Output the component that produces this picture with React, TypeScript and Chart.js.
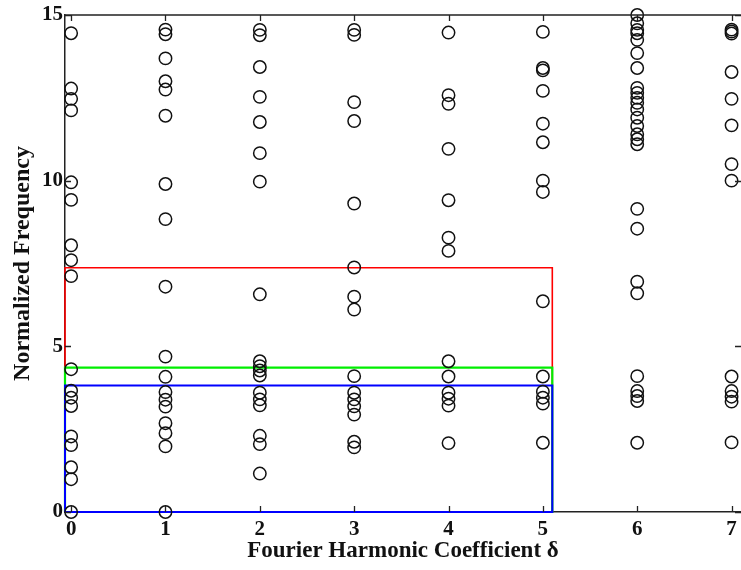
import { useEffect, useRef } from 'react';
import { Chart, registerables } from 'chart.js';

Chart.register(...registerables);

// Tick labels
const xTicks = [0, 1, 2, 3, 4, 5, 6, 7];
const yTicks = [0, 5, 10, 15];

// Axis ranges
const xMin = -0.065;
const xMax = 7.1;
const yMin = 0;
const yMax = 15;

// Normalized frequencies for each Fourier harmonic coefficient δ
const delta0 = [14.45, 12.78, 12.47, 12.12, 9.95, 9.42, 8.05, 7.6, 7.12, 4.31, 3.66, 3.45, 3.2, 2.28, 2.02, 1.35, 0.99, 0];
const delta1 = [14.56, 14.42, 13.69, 13.0, 12.75, 11.96, 9.9, 8.84, 6.8, 4.69, 4.08, 3.62, 3.39, 3.18, 2.68, 2.38, 1.98, 0];
const delta2 = [14.55, 14.39, 13.43, 12.53, 11.77, 10.83, 9.97, 6.57, 4.55, 4.4, 4.27, 4.12, 3.6, 3.4, 3.22, 2.3, 2.05, 1.16];
const delta3 = [14.55, 14.4, 12.37, 11.8, 9.31, 7.38, 6.5, 6.11, 4.1, 3.6, 3.4, 3.19, 2.94, 2.12, 1.95];
const delta4 = [14.47, 12.58, 12.32, 10.96, 9.41, 8.28, 7.88, 4.55, 4.09, 3.6, 3.42, 3.21, 2.08];
const delta5 = [14.49, 13.4, 13.33, 12.71, 11.72, 11.16, 10.0, 9.66, 6.36, 4.09, 3.63, 3.45, 3.27, 2.09];
const delta6 = [15.0, 14.75, 14.55, 14.45, 14.25, 13.85, 13.4, 12.8, 12.65, 12.5, 12.35, 12.15, 11.9, 11.65, 11.4, 11.25, 11.1, 9.15, 8.55, 6.95, 6.6, 4.1, 3.65, 3.5, 3.35, 2.09];
const delta7 = [14.56, 14.5, 14.44, 13.28, 12.47, 11.67, 10.5, 10.0, 4.09, 3.65, 3.48, 3.33, 2.1];
const columns = [delta0, delta1, delta2, delta3, delta4, delta5, delta6, delta7];

// Highlight boxes (right edge and top levels)
const boxRight = 5.1;
const redTop = 7.37;
const greenTop = 4.36;
const blueTop = 3.82;

const FONT = "'Liberation Serif', 'Times New Roman', Times, serif";

function boxPoints(top: number) {
  return [
    { x: xMin, y: 0 },
    { x: boxRight, y: 0 },
    { x: boxRight, y: top },
    { x: xMin, y: top },
    { x: xMin, y: 0 },
  ];
}

const axisDecor = {
  id: 'axisDecor',
  afterDatasetsDraw(chart: any) {
    const { ctx, chartArea: a, scales } = chart;
    const x = scales.x;
    const y = scales.y;
    ctx.save();
    ctx.strokeStyle = '#222';
    ctx.lineWidth = 1.3;
    ctx.beginPath();
    ctx.moveTo(a.left, a.top);
    ctx.lineTo(a.right, a.top);
    for (const v of xTicks) {
      const px = Math.round(x.getPixelForValue(v)) + 0.5;
      ctx.moveTo(px, a.bottom);
      ctx.lineTo(px, a.bottom - 6);
      ctx.moveTo(px, a.top);
      ctx.lineTo(px, a.top + 6);
    }
    for (const v of yTicks) {
      const py = Math.round(y.getPixelForValue(v)) + 0.5;
      ctx.moveTo(a.left, py);
      ctx.lineTo(a.left + 6, py);
      ctx.moveTo(a.right, py);
      ctx.lineTo(a.right - 6, py);
    }
    ctx.stroke();
    ctx.restore();
  },
};

export default function App() {
  const ref = useRef<HTMLCanvasElement>(null);

  useEffect(() => {
    const points = columns.flatMap((col, i) => col.map((v) => ({ x: xTicks[i], y: v })));
    const chart = new Chart(ref.current as HTMLCanvasElement, {
      type: 'scatter',
      data: {
        datasets: [
          {
            label: 'Frequencies',
            data: points,
            pointStyle: 'circle',
            pointRadius: 6.2,
            pointBorderWidth: 1.5,
            pointBackgroundColor: 'rgba(0,0,0,0)',
            pointBorderColor: '#111',
            borderColor: '#111',
            backgroundColor: 'rgba(0,0,0,0)',
            clip: false,
            order: 0,
          } as any,
          {
            label: 'Blue box',
            data: boxPoints(blueTop),
            showLine: true,
            pointRadius: 0,
            borderColor: '#0000ff',
            borderWidth: 2,
            fill: false,
            clip: false,
            order: 1,
          } as any,
          {
            label: 'Green box',
            data: boxPoints(greenTop),
            showLine: true,
            pointRadius: 0,
            borderColor: '#00ee00',
            borderWidth: 2.2,
            fill: false,
            clip: false,
            order: 2,
          } as any,
          {
            label: 'Red box',
            data: boxPoints(redTop),
            showLine: true,
            pointRadius: 0,
            borderColor: '#ff0000',
            borderWidth: 1.6,
            fill: false,
            clip: false,
            order: 3,
          } as any,
        ],
      },
      options: {
        animation: false,
        responsive: false,
        devicePixelRatio: 1,
        events: [],
        layout: { autoPadding: false, padding: { top: 15, right: 0, left: 0, bottom: 0 } },
        plugins: {
          legend: { display: false },
          tooltip: { enabled: false },
        },
        scales: {
          x: {
            type: 'linear',
            min: xMin,
            max: xMax,
            afterBuildTicks: (scale: any) => {
              scale.ticks = xTicks.map((v) => ({ value: v }));
            },
            afterFit: (scale: any) => {
              scale.height = 58;
              scale.paddingLeft = 0;
              scale.paddingRight = 0;
            },
            grid: { display: false, drawTicks: false },
            border: { display: true, color: '#222', width: 1.5 },
            ticks: {
              color: '#111',
              padding: 5,
              maxRotation: 0,
              autoSkip: false,
              font: { family: FONT, size: 21, weight: 'bold' },
            },
            title: {
              display: true,
              text: 'Fourier Harmonic Coefficient δ',
              color: '#111',
              padding: { top: 0, bottom: 5 },
              font: { family: FONT, size: 23, weight: 'bold' },
            },
          },
          y: {
            type: 'linear',
            min: yMin,
            max: yMax,
            afterBuildTicks: (scale: any) => {
              scale.ticks = yTicks.map((v) => ({ value: v }));
            },
            afterFit: (scale: any) => {
              scale.width = 65;
              scale.paddingTop = 0;
              scale.paddingBottom = 0;
            },
            grid: { display: false, drawTicks: false },
            border: { display: true, color: '#222', width: 1.5 },
            ticks: {
              color: '#111',
              padding: 2,
              font: { family: FONT, size: 21, weight: 'bold' },
            },
            title: {
              display: true,
              text: 'Normalized Frequency',
              color: '#111',
              padding: { top: 8, bottom: 0 },
              font: { family: FONT, size: 24, weight: 'bold' },
            },
          },
        },
      } as any,
      plugins: [axisDecor],
    });
    return () => chart.destroy();
  }, []);

  return (
    <div style={{ position: 'fixed', left: 0, top: 0, width: 741, height: 570, background: '#fff' }}>
      <canvas ref={ref} width={741} height={570} style={{ display: 'block', width: 741, height: 570 }} />
    </div>
  );
}
